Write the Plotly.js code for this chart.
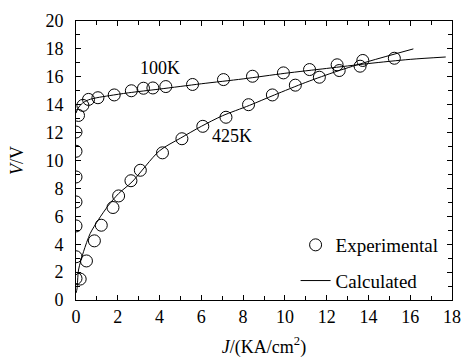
<!DOCTYPE html>
<html><head><meta charset="utf-8">
<script src="https://cdn.plot.ly/plotly-3.0.1.min.js"></script>
<style>html,body{margin:0;padding:0;background:#fff}#chart{width:465px;height:358px}</style>
</head><body><div id="chart"></div>
<script>
// 100K experimental data
const exp100J = [0, 0, 0, 0, 0, 0, 0, 0.12, 0.33, 0.6, 1.05, 1.83, 2.65, 3.23, 3.68, 4.3, 5.58, 7.06, 8.45, 9.93, 11.18, 12.5, 13.73, 15.24];
const exp100V = [1.55, 3.1, 5.31, 7.03, 8.82, 10.66, 12.04, 13.23, 13.95, 14.38, 14.5, 14.7, 15.0, 15.18, 15.2, 15.3, 15.45, 15.8, 16.04, 16.28, 16.52, 16.86, 17.17, 17.33];
// 425K experimental data
const exp425J = [0.2, 0.5, 0.88, 1.21, 1.77, 2.04, 2.63, 3.08, 4.14, 5.07, 6.07, 7.18, 8.26, 9.4, 10.5, 11.65, 12.6, 13.6];
const exp425V = [1.5, 2.8, 4.24, 5.36, 6.63, 7.46, 8.55, 9.3, 10.55, 11.56, 12.45, 13.1, 14.0, 14.7, 15.4, 15.97, 16.45, 16.76];
// calculated curves
const calc100J = [0, 0.1, 0.3, 0.6, 1.0, 1.6, 2.5, 4, 6, 8, 10, 12, 14, 16, 17.7];
const calc100V = [13.4, 13.75, 14.1, 14.35, 14.5, 14.65, 14.85, 15.12, 15.5, 15.85, 16.25, 16.6, 16.95, 17.25, 17.42];
const calc425J = [0, 0.05, 0.12, 0.36, 0.68, 1.08, 1.56, 2.04, 2.68, 4.0, 5, 6, 7, 8.3, 9.5, 11, 12.5, 14, 16.15];
const calc425V = [0.5, 0.8, 2.15, 3.46, 4.77, 5.77, 6.8, 7.63, 8.46, 10.7, 11.6, 12.45, 13.2, 13.95, 14.7, 15.6, 16.4, 17.1, 18.0];
const xTicks = [0, 2, 4, 6, 8, 10, 12, 14, 16, 18];
const yTicks = [0, 2, 4, 6, 8, 10, 12, 14, 16, 18, 20];
const labels = [{text: '100K', x: 4.03, y: 16.6}, {text: '425K', x: 7.48, y: 11.73}];

const font = {family: 'Liberation Serif, Times New Roman, serif', size: 18, color: '#000'};
const legFont = {family: 'Liberation Serif, Times New Roman, serif', size: 19, color: '#000'};
const mk = {symbol: 'circle-open', size: 12, color: '#000', line: {width: 1, color: '#000'}};
const ln = {color: '#000', width: 1, shape: 'spline', smoothing: 0.8};

const traces = [
  {x: exp100J, y: exp100V, mode: 'markers', marker: mk, name: 'Experimental', legendgroup: 'a', showlegend: true, cliponaxis: true},
  {x: exp425J, y: exp425V, mode: 'markers', marker: mk, name: 'Experimental', legendgroup: 'a', showlegend: false, cliponaxis: true},
  {x: calc100J, y: calc100V, mode: 'lines', line: ln, name: 'Calculated', legendgroup: 'b', showlegend: true},
  {x: calc425J, y: calc425V, mode: 'lines', line: ln, name: 'Calculated', legendgroup: 'b', showlegend: false}
];

const axisCommon = {
  showline: true, linecolor: '#000', linewidth: 1, mirror: 'ticks',
  ticks: 'inside', ticklen: 5, tickcolor: '#000', tickwidth: 1,
  showgrid: false, zeroline: false, tickfont: font,
  minor: {dtick: 1, ticks: 'inside', ticklen: 4, tickcolor: '#000', showgrid: false}
};

const layout = {
  width: 465, height: 358,
  margin: {l: 76, r: 13, t: 21, b: 58},
  paper_bgcolor: '#fff', plot_bgcolor: '#fff',
  font: font,
  showlegend: true,
  legend: {x: 0.584, xanchor: 'left', y: 0.0, yanchor: 'bottom', bgcolor: 'rgba(0,0,0,0)',
           font: legFont, traceorder: 'grouped', tracegroupgap: 8},
  xaxis: Object.assign({}, axisCommon, {range: [0, 18], tickvals: xTicks,
    title: {text: '<i>J</i>/(KA/cm<sup>2</sup>)', font: font, standoff: 14}}),
  yaxis: Object.assign({}, axisCommon, {range: [0, 20], tickvals: yTicks, ticklabelstandoff: 8,
    title: {text: '<i>V</i>/V', font: font, standoff: 17}}),
  annotations: labels.map(l => ({text: l.text, x: l.x, y: l.y, xref: 'x', yref: 'y', showarrow: false, font: font}))
};

Plotly.newPlot('chart', traces, layout, {displayModeBar: false, staticPlot: true});
</script></body></html>
